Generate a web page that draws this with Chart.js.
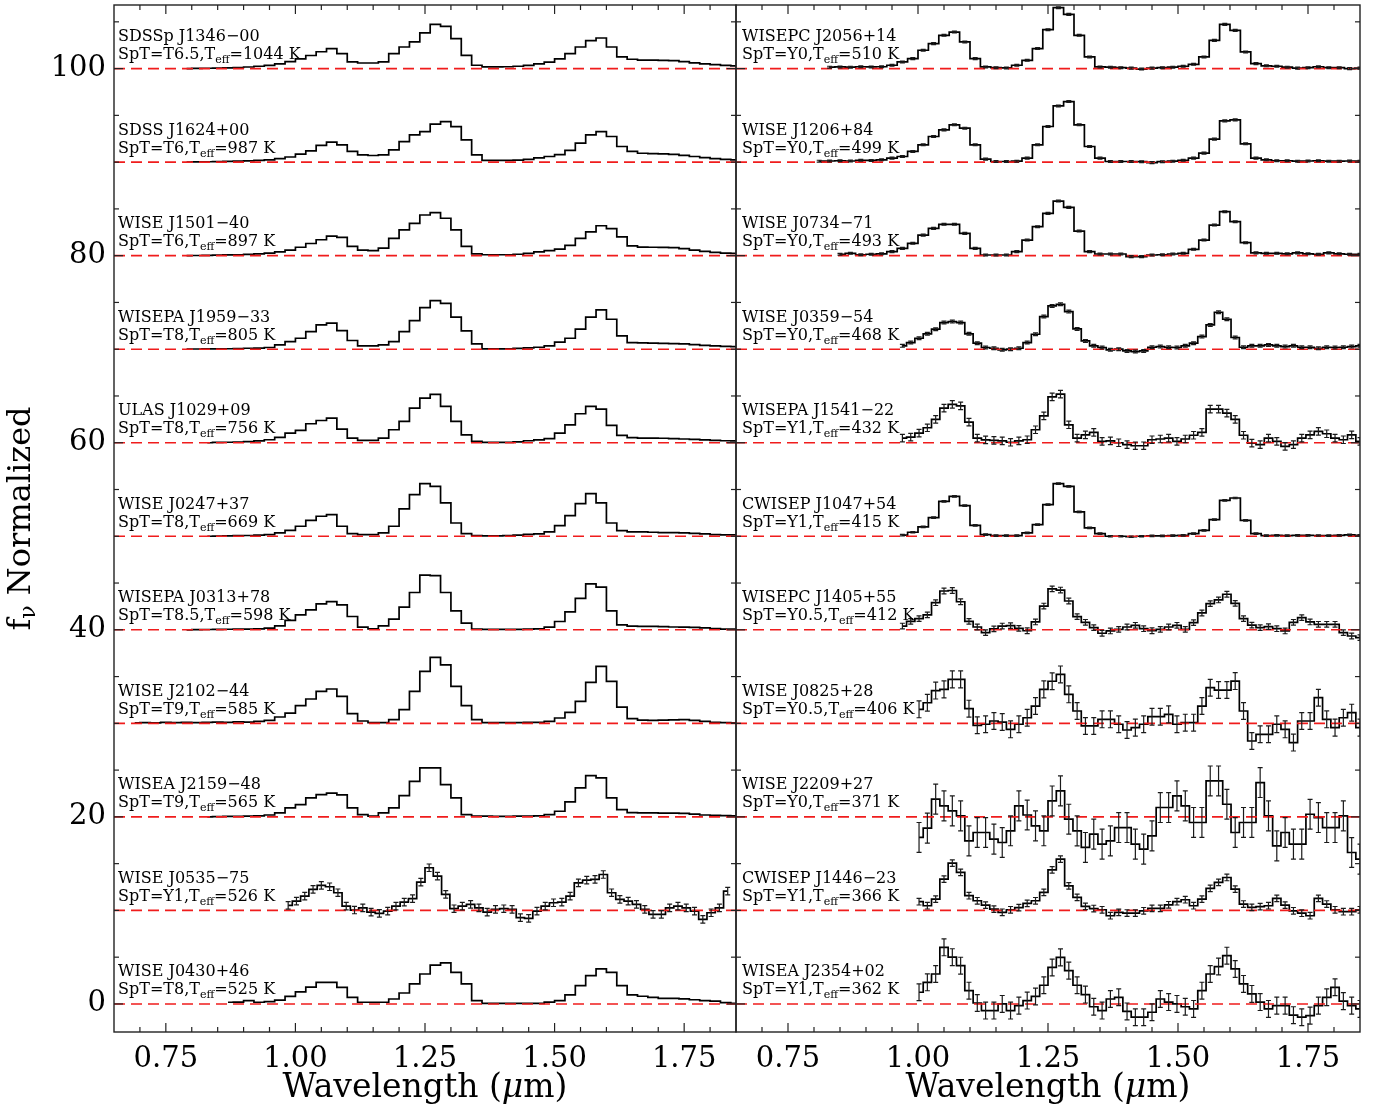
<!DOCTYPE html>
<html>
<head>
<meta charset="utf-8">
<title>Normalized spectra</title>
<script src="https://cdn.jsdelivr.net/npm/chart.js@4.4.1/dist/chart.umd.min.js"></script>
<style>
  body { margin: 0; background: #fff; }
  #wrap { position: relative; width: 1377px; height: 1112px; }
  #wrap canvas { position: absolute; top: 0; }
</style>
</head>
<body>
<div id="wrap">
  <canvas id="leftPanel" width="737" height="1112" style="left:0px"></canvas>
  <canvas id="rightPanel" width="647" height="1112" style="left:730px"></canvas>
</div>
<script>
// wavelength bin centres (um)
const waveIRTF = [0.65,0.67,0.69,0.71,0.73,0.75,0.77,0.79,0.81,0.83,0.85,0.87,0.89,0.91,0.93,0.95,0.97,0.99,
  1.01,1.03,1.05,1.07,1.09,1.11,1.13,1.15,1.17,1.19,1.21,1.23,1.25,1.27,1.29,1.31,1.33,1.35,1.37,1.39,
  1.41,1.43,1.45,1.47,1.49,1.51,1.53,1.55,1.57,1.59,1.61,1.63,1.65,1.67,1.69,1.71,1.73,1.75,1.77,1.79,
  1.81,1.83,1.85];
const waveHST = [0.970,0.986,1.002,1.018,1.034,1.050,1.066,1.082,1.098,1.114,1.130,1.146,1.162,1.178,
  1.194,1.210,1.226,1.242,1.258,1.274,1.290,1.306,1.322,1.338,1.354,1.370,1.386,1.402,1.418,1.434,
  1.450,1.466,1.482,1.498,1.514,1.530,1.546,1.562,1.578,1.594,1.610,1.626,1.642,1.658,1.674,1.690,
  1.706,1.722,1.738,1.754,1.770,1.786,1.802,1.818,1.834,1.850];

const xTicks = [0.75, 1.00, 1.25, 1.50, 1.75];
const yTicks = [0, 20, 40, 60, 80, 100];
const offsets = [100, 90, 80, 70, 60, 50, 40, 30, 20, 10, 0];

const leftNames = ['SDSSp J1346\u221200', 'SDSS J1624+00', 'WISE J1501\u221240', 'WISEPA J1959\u221233',
  'ULAS J1029+09', 'WISE J0247+37', 'WISEPA J0313+78', 'WISE J2102\u221244', 'WISEA J2159\u221248',
  'WISE J0535\u221275', 'WISE J0430+46'];
const leftSpT = ['T6.5', 'T6', 'T6', 'T8', 'T8', 'T8', 'T8.5', 'T9', 'T9', 'Y1', 'T8'];
const leftTeff = [1044, 987, 897, 805, 756, 669, 598, 585, 565, 526, 525];

const rightNames = ['WISEPC J2056+14', 'WISE J1206+84', 'WISE J0734\u221271', 'WISE J0359\u221254',
  'WISEPA J1541\u221222', 'CWISEP J1047+54', 'WISEPC J1405+55', 'WISE J0825+28', 'WISE J2209+27',
  'CWISEP J1446\u221223', 'WISEA J2354+02'];
const rightSpT = ['Y0', 'Y0', 'Y0', 'Y0', 'Y1', 'Y1', 'Y0.5', 'Y0.5', 'Y0', 'Y1', 'Y1'];
const rightTeff = [510, 499, 493, 468, 432, 415, 412, 406, 371, 366, 362];

// normalized flux, starting at the given bin
const fluxJ1346 = [0.00,0.02,0.04,0.06,0.08,0.12,0.17,0.25,0.35,0.50, 0.75,1.05,1.40,1.80,2.14,1.60,0.71,0.60,0.60,0.71,
  1.60,2.31,2.85,3.81,4.73,4.52,3.20,1.42,0.36,0.18, 0.18,0.20,0.25,0.35,0.50,0.70,1.05,1.60,2.31,3.00,
  3.27,2.31,1.25,1.00,0.90,0.90,0.88,0.85,0.75,0.62, 0.50,0.42,0.35,0.30];
const fluxJ1624 = [0.00,0.02,0.04,0.06,0.08,0.10,0.13,0.18,0.25,0.38, 0.55,0.85,1.20,1.80,2.14,1.85,1.14,0.78,0.71,0.78,
  1.32,2.20,2.92,3.27,4.06,4.34,3.80,2.38,0.78,0.18, 0.18,0.18,0.22,0.30,0.45,0.60,0.80,1.25,2.03,2.92,
  3.27,2.74,1.67,1.14,0.95,0.90,0.88,0.82,0.72,0.60, 0.48,0.38,0.30,0.25];
const fluxJ1501 = [0.00,0.02,0.04,0.06,0.08,0.10,0.14,0.20,0.28,0.40, 0.60,0.90,1.30,1.70,2.10,1.95,1.00,0.60,0.55,0.80,
  1.85,2.75,3.45,4.35,4.60,4.00,2.75,1.00,0.20,0.10, 0.10,0.10,0.15,0.25,0.40,0.55,0.70,1.10,1.85,2.55,
  3.20,2.90,2.00,1.05,0.92,0.90,0.88,0.85,0.75,0.60, 0.45,0.35,0.28,0.25];
const fluxJ1959 = [0.00,0.02,0.03,0.04,0.05,0.07,0.10,0.12,0.18,0.46, 0.82,1.17,1.89,2.60,2.78,1.99,0.93,0.36,0.36,0.46,
  0.82,1.89,3.06,4.45,5.20,4.91,3.42,1.96,0.57,0.04, 0.04,0.04,0.08,0.15,0.21,0.36,0.75,1.17,2.14,3.42,
  4.20,3.20,1.42,0.71,0.68,0.65,0.62,0.60,0.57,0.50, 0.42,0.35,0.30,0.28];
const fluxJ1029 = [0.00,0.03,0.05,0.08,0.12,0.20,0.32,0.57,1.03,1.32, 2.03,2.38,2.63,1.46,0.50,0.25,0.25,0.50,1.39,2.28,
  3.70,4.77,5.16,3.88,2.28,0.85,0.14,0.04,0.04,0.04, 0.10,0.21,0.30,0.43,1.03,1.92,3.10,3.88,3.59,1.85,
  0.78,0.55,0.50,0.50,0.48,0.45,0.40,0.35,0.30,0.25, 0.21,0.20];
const fluxJ0247 = [0.00,0.02,0.04,0.06,0.08,0.12,0.18,0.36,0.64,1.07, 1.71,2.14,2.31,1.07,0.28,0.18,0.18,0.36,1.07,2.92,
  4.45,5.62,5.34,3.56,1.42,0.28,0.07,0.05,0.05,0.07, 0.12,0.20,0.25,0.46,1.14,2.21,3.49,4.56,3.56,1.42,
  0.60,0.46,0.46,0.43,0.40,0.38,0.36,0.30,0.25,0.18, 0.14,0.14];
const fluxJ0313 = [0.00,0.02,0.03,0.05,0.06,0.07,0.08,0.10,0.18,0.43, 1.00,1.60,2.14,2.78,3.02,2.67,1.42,0.28,0.10,0.43,
  1.14,2.42,3.99,5.84,5.80,3.99,2.03,0.71,0.07,0.05, 0.05,0.05,0.05,0.07,0.10,0.28,0.89,1.92,3.35,4.91,
  4.56,2.03,0.53,0.40,0.36,0.36,0.33,0.30,0.28,0.25, 0.20,0.12,0.07,0.07];
const fluxJ2102 = [0.05,0.08,0.05,0.10,0.07,0.10,0.08,0.10,0.12,0.10, 0.15,0.12,0.20,0.32,0.68,1.10,1.89,2.60,3.42,3.67,
  2.88,1.03,0.25,0.07,0.07,0.39,1.46,3.42,5.55,7.05, 6.26,3.95,1.89,0.39,0.07,0.07,0.07,0.07,0.10,0.10,
  0.20,0.57,1.17,2.35,4.38,6.09,4.48,1.74,0.50,0.35, 0.32,0.35,0.38,0.39,0.32,0.20,0.10,0.07,0.05];
const fluxJ2159 = [0.00,0.03,0.05,0.06,0.08,0.10,0.20,0.43,0.96,1.32, 2.03,2.38,2.53,2.35,0.96,0.25,0.07,0.43,0.96,2.28,
  3.80,5.23,5.23,3.45,2.03,0.25,0.07,0.07,0.05,0.05, 0.07,0.07,0.10,0.25,0.60,1.60,3.10,4.41,4.16,2.03,
  0.78,0.45,0.43,0.42,0.40,0.40,0.38,0.30,0.20,0.15, 0.14,0.12];
const fluxJ0535 = [0.53,1.00,1.53,2.24,2.67,2.53,1.89,0.46,0.04,0.28, -0.18,-0.32,-0.07,0.46,0.89,1.25,3.02,4.56,3.67,1.71,
  0.18,0.46,0.64,0.28,-0.18,0.11,0.18,0.11,-0.78,-0.85, -0.07,0.46,0.82,0.89,1.53,2.95,3.24,3.31,3.84,1.89,
  1.17,1.00,0.64,0.11,-0.43,-0.43,0.28,0.46,0.28,-0.07, -0.96,-0.25,0.28,2.06];
const fluxJ0430 = [0.18,0.20,0.36,0.18,0.25,0.40,0.80,1.30,1.80,2.31, 2.31,1.78,0.71,0.18,0.18,0.18,0.53,1.17,2.14,3.20,
  4.16,4.38,3.38,2.14,0.36,0.07,0.07,0.07,0.07,0.07, 0.07,0.20,0.36,0.96,1.96,3.02,3.74,3.38,1.96,0.96,
  0.82,0.70,0.60,0.60,0.55,0.45,0.36,0.30,0.15,0.07];

const fluxJ2056 = [0.15,0.18,0.15,0.20,0.18,0.20,0.36,0.71,1.07,1.96, 2.67,3.56,3.91,2.85,1.07,0.18,0.10,0.07,0.36,0.89,
  2.14,4.16,6.51,5.80,3.56,1.25,0.18,0.15,0.10,0.05, -0.05,0.05,0.10,0.15,0.25,0.46,1.25,3.02,4.73,4.09,
  1.78,0.53,0.30,0.25,0.15,0.05,0.10,0.20,0.10,0.10, 0.00,0.05];
const fluxJ1206 = [0.10,0.12,0.15,0.12,0.20,0.18,0.25,0.43,0.60,1.14, 1.85,2.74,3.45,3.99,3.63,1.85,0.32,0.07,0.07,0.10,
  0.43,1.85,3.81,6.01,6.48,3.99,1.67,0.43,0.07,0.07, 0.07,0.05,-0.05,0.05,0.10,0.20,0.43,0.96,2.46,4.41,
  4.52,1.96,0.43,0.25,0.15,0.15,0.10,0.12,0.15,0.10, 0.10,0.12,0.10];
const fluxJ0734 = [0.15,0.25,0.10,0.15,0.20,0.43,0.78,1.32,2.20,2.92, 3.35,3.35,2.38,0.78,0.07,0.07,0.07,0.43,1.67,3.10,
  4.52,5.84,5.16,2.63,0.43,0.18,0.18,0.18,-0.10,-0.10, 0.07,0.10,0.18,0.25,0.68,1.67,3.27,4.70,3.63,1.39,
  0.30,0.25,0.25,0.20,0.30,0.20,0.15,0.30,0.20,0.15, 0.15];
const fluxJ0359 = [0.36,0.71,1.17,1.64,2.14,2.85,2.95,2.85,1.64,0.64, 0.18,0.10,-0.07,0.00,0.10,0.71,1.60,3.49,4.63,4.80,
  4.02,2.17,0.89,0.36,0.18,-0.07,0.00,-0.18,-0.25,-0.18, 0.21,0.28,0.21,0.18,0.36,0.64,1.35,2.60,3.95,3.20,
  1.25,0.21,0.36,0.36,0.46,0.36,0.28,0.36,0.21,0.21, 0.10,0.21,0.18,0.21,0.28,0.36];
const fluxJ1541 = [0.50,0.60,1.03,1.60,2.50,3.70,4.10,3.95,2.20,0.50, 0.30,0.25,0.20,0.05,0.20,0.32,1.39,2.88,4.90,5.20,
  1.92,0.50,0.85,1.10,0.14,0.20,0.00,-0.21,-0.32,-0.32, 0.32,0.40,0.50,0.14,0.40,0.80,1.10,3.59,3.59,3.17,
  2.50,0.80,-0.05,-0.20,0.50,0.14,-0.39,-0.20,0.50,0.85, 1.21,0.96,0.50,0.32,0.85,0.14];
const fluxJ1047 = [0.12,0.43,1.00,2.00,3.74,4.27,3.27,1.17,0.18,0.07, 0.07,0.07,0.36,1.25,3.38,5.62,5.34,2.60,0.89,0.28,
  0.00,0.00,-0.05,0.00,0.05,0.05,0.07,0.10,0.28,0.64, 1.78,3.84,4.09,1.71,0.28,0.07,0.10,0.07,0.10,0.10,
  0.08,0.07,0.10,0.15,0.10];
const fluxJ1405 = [0.40,0.90,1.20,1.60,2.90,4.15,4.20,3.00,0.90,0.30, -0.30,0.10,0.40,0.45,0.15,-0.10,0.84,2.54,4.38,4.25,
  3.08,1.41,0.80,0.23,-0.37,-0.12,0.05,0.30,0.48,0.12, -0.10,0.05,0.30,0.48,0.05,0.77,1.80,2.80,3.19,3.80,
  2.83,1.20,0.50,0.23,0.34,0.12,-0.12,0.80,1.30,0.84, 0.59,0.59,0.59,-0.30,-0.66,-0.84];
const fluxJ0825 = [1.50,2.20,3.50,3.63,4.70,4.70,1.57,-0.21,-0.10,0.25, 0.14,-0.64,-0.10,0.60,1.85,3.63,4.50,5.23,3.10,1.32,
  -0.28,-0.28,0.43,0.43,-0.10,-0.71,-0.46,-0.10,0.71,0.71, 0.96,-0.10,0.07,0.07,1.85,3.81,3.56,3.56,4.52,1.32,
  -1.89,-1.17,-1.17,-0.10,-0.64,-2.06,0.25,0.25,2.74,0.43, -0.46,0.60,1.14,-0.46];
const fluxJ2209 = [-2.20,-1.20,1.90,1.17,0.64,0.10,-2.56,-1.67,-1.67,-2.38, -2.74,-1.49,1.17,0.20,-0.96,-1.49,1.70,2.78,-0.25,-1.50,
  -3.27,-1.85,-2.92,-2.56,-1.14,-1.14,-2.92,-3.45,-2.03,1.00, 1.00,2.24,1.17,-0.60,-0.60,3.84,3.84,1.35,-1.67,-0.60,
  -0.60,3.67,0.10,-3.10,-1.67,-2.92,-2.92,0.28,-0.07,-1.14, -1.14,0.10,-3.81,-4.52];
const fluxJ1446 = [0.93,0.50,1.20,3.35,5.05,4.06,1.57,1.03,0.57,0.14, -0.20,0.07,0.30,0.75,1.03,1.92,4.34,5.48,2.63,1.39,
  0.43,0.20,0.07,-0.57,-0.21,-0.28,-0.28,-0.04,0.21,0.21, 0.60,0.93,1.14,0.50,1.20,2.35,3.00,3.52,2.28,0.68,
  0.32,0.40,0.50,1.28,0.57,-0.04,-0.30,-0.57,1.28,0.68, 0.07,-0.14,-0.14,0.07];
const fluxJ2354 = [1.25,2.31,3.20,6.05,5.00,4.09,1.42,0.10,-0.71,-0.71, 0.00,-0.71,-0.18,0.36,0.80,2.00,3.90,4.98,3.56,2.00,
  1.00,-0.30,-0.71,0.53,0.71,-0.80,-1.42,-1.42,-0.89,0.53, 0.20,0.00,-0.30,-0.53,1.42,3.20,4.00,5.16,3.74,2.14,
  1.07,0.20,-0.53,-0.18,-0.18,-1.20,-1.42,-1.25,-0.18,0.71, 1.78,0.30,-0.18,-0.53];

// typical 1-sigma error per spectrum (null: not drawn)
const leftSpectra = [
  { grid: waveIRTF, start: 0.79, flux: fluxJ1346, err: null },
  { grid: waveIRTF, start: 0.79, flux: fluxJ1624, err: null },
  { grid: waveIRTF, start: 0.79, flux: fluxJ1501, err: null },
  { grid: waveIRTF, start: 0.79, flux: fluxJ1959, err: null },
  { grid: waveIRTF, start: 0.83, flux: fluxJ1029, err: null },
  { grid: waveIRTF, start: 0.83, flux: fluxJ0247, err: null },
  { grid: waveIRTF, start: 0.79, flux: fluxJ0313, err: null },
  { grid: waveIRTF, start: 0.69, flux: fluxJ2102, err: null },
  { grid: waveIRTF, start: 0.83, flux: fluxJ2159, err: null },
  { grid: waveHST, start: 0.986, flux: fluxJ0535, err: 0.4 },
  { grid: waveIRTF, start: 0.87, flux: fluxJ0430, err: null }
];
const rightSpectra = [
  { grid: waveIRTF, start: 0.83, flux: fluxJ2056, err: 0.1 },
  { grid: waveIRTF, start: 0.81, flux: fluxJ1206, err: 0.1 },
  { grid: waveIRTF, start: 0.85, flux: fluxJ0734, err: 0.1 },
  { grid: waveHST, start: 0.970, flux: fluxJ0359, err: 0.15 },
  { grid: waveHST, start: 0.970, flux: fluxJ1541, err: 0.4 },
  { grid: waveIRTF, start: 0.97, flux: fluxJ1047, err: 0.08 },
  { grid: waveHST, start: 0.970, flux: fluxJ1405, err: 0.3 },
  { grid: waveHST, start: 1.002, flux: fluxJ0825, err: 0.9 },
  { grid: waveHST, start: 1.002, flux: fluxJ2209, err: 1.6 },
  { grid: waveHST, start: 1.002, flux: fluxJ1446, err: 0.35 },
  { grid: waveHST, start: 1.002, flux: fluxJ2354, err: 0.9 }
];

const FONT = '"DejaVu Serif", serif';
Chart.defaults.font.family = FONT;
Chart.defaults.color = '#000';

function points(s, off) {
  const i0 = s.grid.indexOf(s.start);
  return s.flux.map((f, i) => ({ x: s.grid[i0 + i], y: off + f }));
}

function line(ctx, x1, y1, x2, y2) {
  ctx.beginPath(); ctx.moveTo(x1, y1); ctx.lineTo(x2, y2); ctx.stroke();
}

const decor = {
  id: 'decor',
  afterDatasetsDraw(chart, args, o) {
    const ctx = chart.ctx, a = chart.chartArea;
    const xs = chart.scales.x, ys = chart.scales.y;

    // error bars
    ctx.save();
    ctx.beginPath();
    ctx.rect(a.left, a.top, a.right - a.left, a.bottom - a.top);
    ctx.clip();
    ctx.strokeStyle = '#1a1a1a';
    ctx.lineWidth = 1.2;
    o.spectra.forEach((s, k) => {
      if (!s.err) return;
      points(s, offsets[k]).forEach(p => {
        const px = xs.getPixelForValue(p.x);
        const lo = ys.getPixelForValue(p.y - s.err), hi = ys.getPixelForValue(p.y + s.err);
        ctx.beginPath();
        ctx.moveTo(px, lo); ctx.lineTo(px, hi);
        ctx.moveTo(px - 2.5, lo); ctx.lineTo(px + 2.5, lo);
        ctx.moveTo(px - 2.5, hi); ctx.lineTo(px + 2.5, hi);
        ctx.stroke();
      });
    });
    ctx.restore();

    // frame and inward ticks
    ctx.save();
    ctx.strokeStyle = '#222';
    ctx.lineWidth = 1.4;
    ctx.strokeRect(a.left, a.top, a.right - a.left, a.bottom - a.top);
    ctx.lineWidth = 1.2;
    for (let k = 14; k <= 36; k++) {
      const v = k * 0.05;
      const px = xs.getPixelForValue(v);
      const len = xTicks.some(t => Math.abs(t - v) < 1e-6) ? 9 : 5;
      line(ctx, px, a.bottom, px, a.bottom - len);
      line(ctx, px, a.top, px, a.top + len);
    }
    for (let k = 0; k <= 21; k++) {
      const v = k * 5;
      const py = ys.getPixelForValue(v);
      const len = v % 20 === 0 ? 9 : 5;
      line(ctx, a.left, py, a.left + len, py);
      line(ctx, a.right, py, a.right - len, py);
    }
    ctx.restore();

    // spectrum labels
    ctx.save();
    ctx.fillStyle = '#000';
    ctx.textBaseline = 'alphabetic';
    o.names.forEach((name, k) => {
      const yb = ys.getPixelForValue(offsets[k]);
      const x0 = a.left + o.labelDx;
      ctx.font = '16px ' + FONT;
      ctx.fillText(name, x0, yb - 27.5);
      const s1 = 'SpT=' + o.spt[k] + ',T';
      ctx.fillText(s1, x0, yb - 9.5);
      const w1 = ctx.measureText(s1).width;
      ctx.font = '11px ' + FONT;
      ctx.fillText('eff', x0 + w1, yb - 5.5);
      const w2 = ctx.measureText('eff').width;
      ctx.font = '16px ' + FONT;
      ctx.fillText('=' + o.teff[k] + ' K', x0 + w1 + w2, yb - 9.5);
    });

    // x axis title: Wavelength (um)
    const parts = [['Wavelength (', 'normal'], ['\u03bc', 'italic'], ['m)', 'normal']];
    let total = 0;
    parts.forEach(p => { ctx.font = p[1] + ' 33px ' + FONT; total += ctx.measureText(p[0]).width; });
    let cx = (a.left + a.right) / 2 - total / 2;
    ctx.textBaseline = 'middle';
    parts.forEach(p => {
      ctx.font = p[1] + ' 33px ' + FONT;
      ctx.fillText(p[0], cx, 1088);
      cx += ctx.measureText(p[0]).width;
    });

    // y axis title: f_nu Normalized
    if (o.yTitle) {
      ctx.translate(22, (a.top + a.bottom) / 2);
      ctx.rotate(-Math.PI / 2);
      ctx.font = '32px ' + FONT;
      const wf = ctx.measureText('f').width;
      ctx.font = '22px ' + FONT;
      const wn = ctx.measureText('\u03bd').width;
      ctx.font = '32px ' + FONT;
      const wr = ctx.measureText(' Normalized').width;
      let tx = -(wf + wn + wr) / 2;
      ctx.fillText('f', tx, 0);
      ctx.font = '22px ' + FONT;
      ctx.fillText('\u03bd', tx + wf, 7);
      ctx.font = '32px ' + FONT;
      ctx.fillText(' Normalized', tx + wf + wn, 0);
    }
    ctx.restore();
  }
};

function makePanel(canvasId, spectra, names, spt, teff, showY, padding, labelDx) {
  const datasets = [];
  spectra.forEach((s, k) => {
    datasets.push({
      data: points(s, offsets[k]),
      borderColor: '#000', borderWidth: 1.7, stepped: 'middle',
      pointRadius: 0, fill: false, order: 1
    });
    datasets.push({
      data: [{ x: 0.65, y: offsets[k] }, { x: 1.85, y: offsets[k] }],
      borderColor: '#f01c1c', borderWidth: 1.6, borderDash: [11, 6],
      pointRadius: 0, fill: false, order: 0
    });
  });
  return new Chart(document.getElementById(canvasId), {
    type: 'line',
    data: { datasets },
    options: {
      responsive: false,
      animation: false,
      devicePixelRatio: 1,
      layout: { padding },
      plugins: {
        legend: { display: false },
        tooltip: { enabled: false },
        decor: { spectra, names, spt, teff, yTitle: showY, labelDx }
      },
      scales: {
        x: {
          type: 'linear', min: 0.65, max: 1.85,
          grid: { display: false, drawTicks: false },
          border: { display: false },
          afterBuildTicks: s => { s.ticks = xTicks.map(v => ({ value: v })); },
          afterFit: s => { s.height = 80; s.paddingLeft = 0; s.paddingRight = 0; },
          ticks: {
            autoSkip: false, maxRotation: 0, padding: 10,
            font: { family: FONT, size: 29 },
            callback: v => Number(v).toFixed(2)
          }
        },
        y: {
          type: 'linear', min: -3, max: 106.8,
          display: showY,
          grid: { display: false, drawTicks: false },
          border: { display: false },
          afterBuildTicks: s => { s.ticks = yTicks.map(v => ({ value: v })); },
          afterFit: s => { s.width = showY ? 114 : 0; s.paddingTop = 0; s.paddingBottom = 0; },
          ticks: {
            padding: 8,
            font: { family: FONT, size: 29 },
            callback: v => String(v)
          }
        }
      }
    },
    plugins: [decor]
  });
}

makePanel('leftPanel', leftSpectra, leftNames, leftSpT, leftTeff, true,
  { top: 5, right: 1, left: 0, bottom: 0 }, 4);
makePanel('rightPanel', rightSpectra, rightNames, rightSpT, rightTeff, false,
  { top: 5, right: 17, left: 6, bottom: 0 }, 6);
</script>
</body>
</html>
